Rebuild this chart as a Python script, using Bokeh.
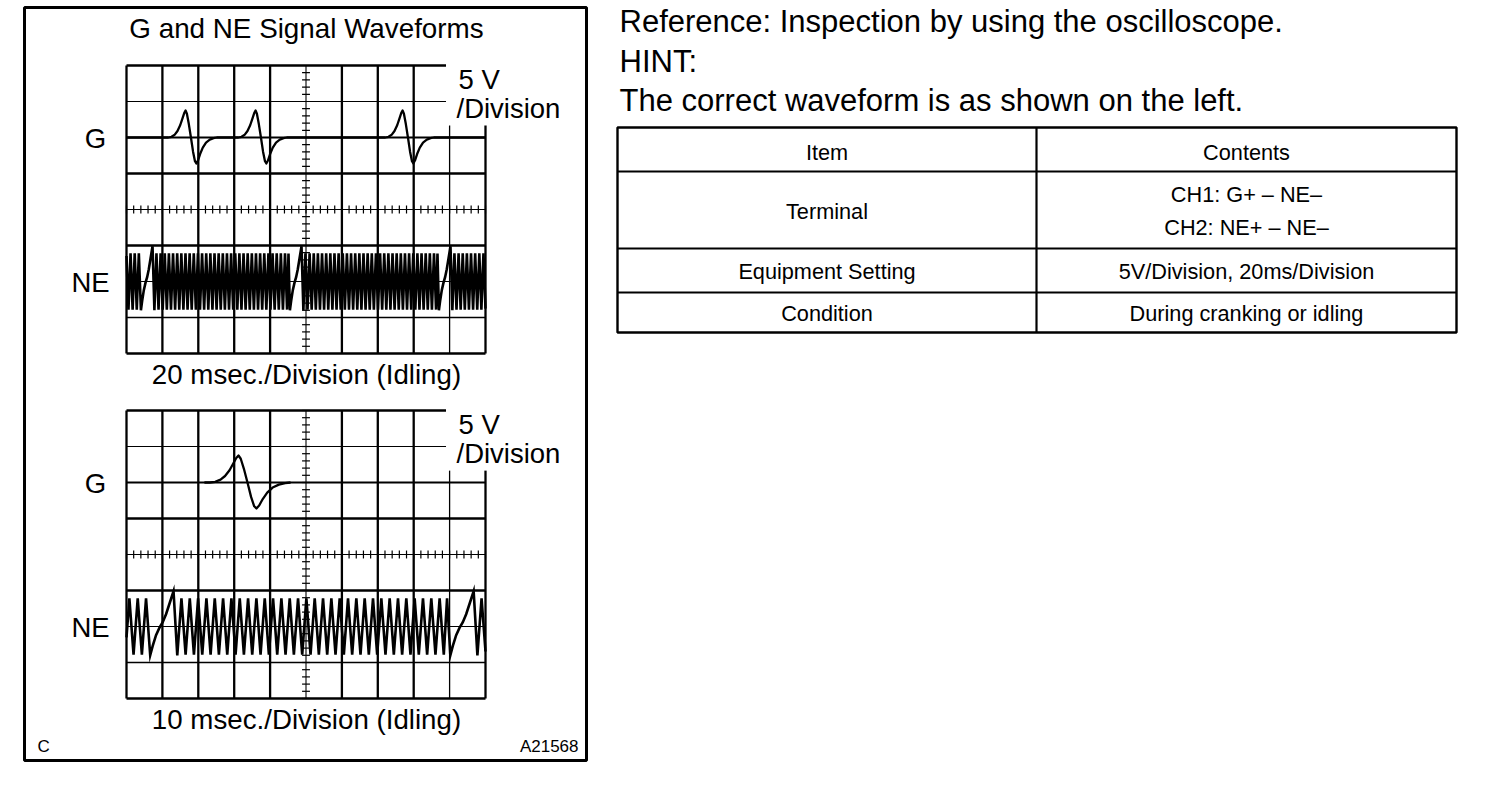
import numpy as np
from bokeh.plotting import figure
from bokeh.models import Range1d
from bokeh.embed import file_html
from bokeh.resources import INLINE
from bokeh.core.properties import value

# ------------------------------------------------------------------ data
VOLTS_PER_DIV = 5
N_DIV_X = 10
N_DIV_Y = 8
TOP_MS_PER_DIV = 20
BOT_MS_PER_DIV = 10
G_BASE_V = 10          # G channel zero line (2 div above centre)
NE_BASE_V = -10        # NE channel zero line (2 div below centre)

# G pulses: zero-crossing times read from the screens (ms)
G_PULSE_TOP_MS = [35.9, 74.9, 156.8]
G_PULSE_BOT_MS = [33.7]
G_HALF_TOP_MS = 3.0
G_HALF_BOT_MS = 2.5
# G pulse outline (time in half-widths, volts)
G_SHAPE_U = [-4.2, -3.6, -3.0, -2.5, -2.0, -1.6, -1.25, -1.0, -0.75, -0.4, 0.0,
             0.4, 0.75, 1.0, 1.3, 1.7, 2.2, 2.8, 3.5, 4.2, 4.8]
G_SHAPE_V = [0.0, 0.1, 0.4, 0.9, 1.7, 2.6, 3.4, 3.75, 3.3, 1.9, 0.0,
             -2.0, -3.3, -3.6, -3.2, -2.3, -1.4, -0.7, -0.3, -0.1, 0.0]

# NE: missing-tooth gap peaks (ms) and tooth pitch (ms)
NE_GAP_TOP_MS = [14.5, 97.5, 180.5]
NE_GAP_BOT_MS = [13.1, 96.7]
NE_PITCH_TOP_MS = 2.31
NE_PITCH_BOT_MS = 2.32
NE_TROUGH_V = -3.9
NE_CREST_V = 3.9
# NE gap outline (time in tooth pitches, volts)
NE_GAP_SHAPE_U = [-2.8, -2.5, -2.1, -1.7, -1.3, -0.9, -0.45, 0.0, 0.45]
NE_GAP_SHAPE_V = [-4.0, -2.7, -1.2, -0.2, 0.6, 1.7, 3.3, 4.9, -4.0]

TITLE = "G and NE Signal Waveforms"
CH_LABELS = ["G", "NE"]
VDIV_LABELS = ["5 V", "/Division"]
TIMEBASE_LABELS = ["20 msec./Division (Idling)", "10 msec./Division (Idling)"]
CORNER_LEFT = "C"
CORNER_RIGHT = "A21568"
NOTE_LINES = ["Reference: Inspection by using the oscilloscope.",
              "HINT:",
              "The correct waveform is as shown on the left."]
TABLE_HEAD = ["Item", "Contents"]
TABLE_ITEMS = ["Terminal", "Equipment Setting", "Condition"]
TABLE_CONTENTS = [["CH1: G+ \u2013 NE\u2013", "CH2: NE+ \u2013 NE\u2013"],
                  ["5V/Division, 20ms/Division"],
                  ["During cranking or idling"]]

FONT = value("Liberation Sans")

# ------------------------------------------------------------------ figure (page pixel coordinates)
W, H = 1488, 772
p = figure(width=W, height=H, output_backend="svg", toolbar_location=None,
           x_range=Range1d(0, W), y_range=Range1d(H, 0), min_border=0)
p.axis.visible = False
p.grid.visible = False
p.outline_line_color = None
p.background_fill_color = "white"


def span_range(v0, v1, p0, p1, P_start, P_end):
    k = (v1 - v0) / (p1 - p0)
    return Range1d(start=v0 + (P_start - p0) * k, end=v0 + (P_end - p0) * k)


def g_trace(pulses, half, full_width, t_end):
    ts, vs = [], []
    if full_width:
        ts.append(0.0); vs.append(0.0)
    for c in pulses:
        for u, v in zip(G_SHAPE_U, G_SHAPE_V):
            ts.append(c + u * half); vs.append(v)
    if full_width:
        ts.append(t_end); vs.append(0.0)
    else:
        ts.insert(0, ts[0] - 0.6 * half); vs.insert(0, 0.0)
    return np.array(ts), np.array(vs) + G_BASE_V


def ne_trace(gaps, pitch, t_end):
    pts = []
    first = gaps[0] + NE_GAP_SHAPE_U[0] * pitch
    pre = []
    t = first
    while t > -pitch:
        pre.append((t - 0.5 * pitch, NE_CREST_V))
        pre.append((t - pitch, NE_TROUGH_V))
        t -= pitch
    pts.extend(reversed(pre))
    for gi, g in enumerate(gaps):
        for u, v in zip(NE_GAP_SHAPE_U, NE_GAP_SHAPE_V):
            pts.append((g + u * pitch, v))
        t = g + NE_GAP_SHAPE_U[-1] * pitch
        if gi + 1 < len(gaps):
            stop = gaps[gi + 1] + NE_GAP_SHAPE_U[0] * pitch
            while t + 1.5 * pitch <= stop:
                pts.append((t + 0.5 * pitch, NE_CREST_V))
                pts.append((t + pitch, NE_TROUGH_V))
                t += pitch
            pts.append(((t + stop) / 2, NE_CREST_V))
        else:
            while t < t_end + pitch:
                pts.append((t + 0.5 * pitch, NE_CREST_V))
                pts.append((t + pitch, NE_TROUGH_V))
                t += pitch
    ts = np.array([a for a, _ in pts])
    vs = np.array([b for _, b in pts])
    inside = (ts > 0) & (ts < t_end)
    t_out = np.concatenate([[0.0], ts[inside], [t_end]])
    v_out = np.concatenate([[np.interp(0.0, ts, vs)], vs[inside], [np.interp(t_end, ts, vs)]])
    return t_out, v_out + NE_BASE_V


def draw_scope(name, top_px, ms_per_div, g_pulses, g_half, g_full, ne_gaps, ne_pitch, ne_lw):
    left_px, right_px = 126, 485
    bottom_px = top_px + 288
    t_end = ms_per_div * N_DIV_X
    v_top = VOLTS_PER_DIV * N_DIV_Y / 2
    xr = "x_" + name
    yr = "y_" + name
    p.extra_x_ranges[xr] = span_range(0, t_end, left_px, right_px, 0, W)
    p.extra_y_ranges[yr] = span_range(v_top, -v_top, top_px, bottom_px, H, 0)
    kw = dict(x_range_name=xr, y_range_name=yr, line_color="black")

    cut_t = 8.9 * ms_per_div           # label box at top right
    cut_v = v_top - 1.67 * VOLTS_PER_DIV
    # vertical grid lines
    for i in range(N_DIV_X + 1):
        x = i * ms_per_div
        y1 = cut_v if i >= 9 else v_top
        lw = 1.1 if i == 5 else (1.3 if i == 9 else 2.3)
        p.segment(x0=[x], y0=[-v_top], x1=[x], y1=[y1], line_width=lw, **kw)
    # horizontal grid lines
    widths = [2.6, 1.2, 1.8, 2.3, 1.1, 2.3, 1.2, 1.7, 2.6]
    for j in range(N_DIV_Y + 1):
        y = v_top - j * VOLTS_PER_DIV
        x1 = cut_t if j <= 1 else t_end
        p.segment(x0=[0], y0=[y], x1=[x1], y1=[y], line_width=widths[j], **kw)
    # centre tick marks
    sub = 0.2
    hx = 0.11 * ms_per_div
    hy = 0.11 * VOLTS_PER_DIV
    yt = np.arange(-v_top, v_top + 1e-9, sub * VOLTS_PER_DIV)
    xc = 5 * ms_per_div
    p.segment(x0=xc - hx, y0=yt, x1=xc + hx, y1=yt, line_width=1.2, **kw)
    xt = np.arange(0, t_end + 1e-9, sub * ms_per_div)
    p.segment(x0=xt, y0=-hy, x1=xt, y1=hy, line_width=1.2, **kw)

    # traces
    gt, gv = g_trace(g_pulses, g_half, g_full, t_end)
    p.line(gt, gv, line_width=2.3, line_join="round", **kw)
    nt, nv = ne_trace(ne_gaps, ne_pitch, t_end)
    p.line(nt, nv, line_width=ne_lw, line_join="miter", **kw)


draw_scope("top", 65, TOP_MS_PER_DIV, G_PULSE_TOP_MS, G_HALF_TOP_MS, True,
           NE_GAP_TOP_MS, NE_PITCH_TOP_MS, 2.6)
draw_scope("bot", 410, BOT_MS_PER_DIV, G_PULSE_BOT_MS, G_HALF_BOT_MS, False,
           NE_GAP_BOT_MS, NE_PITCH_BOT_MS, 2.6)

# outer frame of the illustration
p.quad(left=[24], right=[586], top=[7], bottom=[760], fill_color=None,
       line_color="black", line_width=3)

# texts (y = visual centre of the line)
def txt(x, y, s, size, align="left", baseline="middle"):
    p.text(x=[x], y=[y], text=[s], text_font=FONT, text_font_size=f"{size}px",
           text_align=align, text_baseline=baseline, text_color="black")

txt(306, 28, TITLE, 27.8, "center")
for top_px, tb in zip([65, 410], TIMEBASE_LABELS):
    txt(95, top_px + 73, CH_LABELS[0], 27.5, "center")
    txt(90, top_px + 217, CH_LABELS[1], 27.5, "center")
    txt(458, top_px + 14, VDIV_LABELS[0], 27.5)
    txt(456, top_px + 43, VDIV_LABELS[1], 27.5)
    txt(306, top_px + 309, tb, 27.7, "center")
txt(37, 746, CORNER_LEFT, 17)
txt(578, 746, CORNER_RIGHT, 17, "right")

# right-hand notes
for k, line in enumerate(NOTE_LINES):
    txt(619, 21 + 39.5 * k, line, 31)

# table
TL, TR, TM = 617, 1456, 1036
rows_y = [127, 171, 248, 292, 332]
p.quad(left=[TL], right=[TR], top=[rows_y[0]], bottom=[rows_y[-1]], fill_color=None,
       line_color="black", line_width=2.4)
p.segment(x0=[TM], y0=[rows_y[0]], x1=[TM], y1=[rows_y[-1]], line_color="black", line_width=2.2)
p.segment(x0=[TL] * 3, y0=rows_y[1:4], x1=[TR] * 3, y1=rows_y[1:4], line_color="black", line_width=2.2)
c1 = (TL + TM) / 2
c2 = (TM + TR) / 2
TS = 21.7
txt(c1, 152, TABLE_HEAD[0], TS, "center")
txt(c2, 152, TABLE_HEAD[1], TS, "center")
for r, (item, cont) in enumerate(zip(TABLE_ITEMS, TABLE_CONTENTS)):
    ymid = (rows_y[r + 1] + rows_y[r + 2]) / 2
    txt(c1, ymid + 1, item, TS, "center")
    n = len(cont)
    for q, s in enumerate(cont):
        txt(c2, ymid + 1 + (q - (n - 1) / 2) * 33, s, TS, "center")

open("out.html", "w").write(file_html(p, INLINE))
